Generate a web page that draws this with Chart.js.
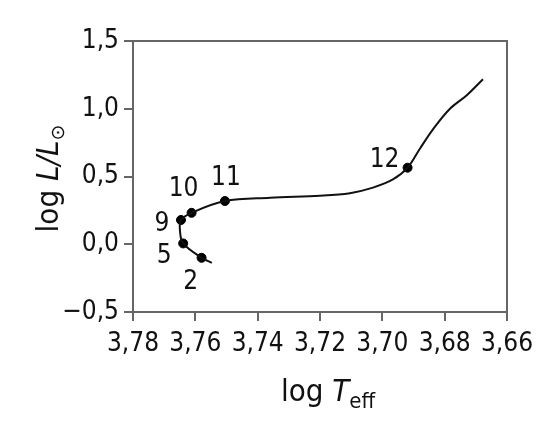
<!DOCTYPE html>
<html>
<head>
<meta charset="utf-8">
<script src="https://cdn.jsdelivr.net/npm/chart.js@4/dist/chart.umd.min.js"></script>
<style>
  html, body { margin: 0; padding: 0; background: #fff; }
  #wrap { width: 560px; height: 439px; }
</style>
</head>
<body>
<div id="wrap"><canvas id="hrd"></canvas></div>
<script>
// track data (log Teff, log L/Lsun)
const trackT = [3.7547, 3.7580, 3.7639, 3.7649, 3.7646, 3.7612, 3.7505, 3.7360, 3.7200, 3.7104, 3.7030, 3.6966, 3.6919, 3.6879, 3.6837, 3.6783, 3.6729, 3.6677];
const trackL = [-0.137, -0.100, 0.006, 0.092, 0.179, 0.232, 0.319, 0.343, 0.358, 0.377, 0.418, 0.478, 0.565, 0.707, 0.850, 1.000, 1.100, 1.218];

// marked points
const markT = [3.7580, 3.7639, 3.7646, 3.7612, 3.7505, 3.6919];
const markL = [-0.100, 0.006, 0.179, 0.232, 0.319, 0.565];
const markNames = ['2', '5', '9', '10', '11', '12'];

// tick values
const xTicks = [3.78, 3.76, 3.74, 3.72, 3.70, 3.68, 3.66];
const yTicks = [-0.5, 0.0, 0.5, 1.0, 1.5];

const FONT = "'Liberation Sans Narrow', 'DejaVu Sans Condensed', sans-serif";
const INK = '#111';
const AXIS = '#666';

// label offsets from marker (px)
const labelOffsets = [[-11, 24], [-19, 13], [-19, 4], [-8, -24], [1, -23], [-23, -7]];

const comma = (v, d) => {
    const s = Math.abs(v).toFixed(d).replace('.', ',');
    return v < 0 ? '\u2212' + s : s;
};

// 枠線・軸タイトル・点ラベル
const extras = {
    id: 'extras',
    afterDraw(chart) {
        const c = chart.ctx;
        const a = chart.chartArea;
        const xs = chart.scales.x, ys = chart.scales.y;
        c.save();
        c.strokeStyle = AXIS;
        c.lineWidth = 2;
        c.beginPath();
        c.moveTo(a.left, a.top);
        c.lineTo(a.right, a.top);
        c.lineTo(a.right, a.bottom);
        c.stroke();

        // point labels
        c.fillStyle = INK;
        c.font = '26px ' + FONT;
        c.textAlign = 'center';
        c.textBaseline = 'middle';
        markNames.forEach((n, i) => {
            const px = xs.getPixelForValue(markT[i]);
            const py = ys.getPixelForValue(markL[i]);
            c.fillText(n, px + labelOffsets[i][0], py + labelOffsets[i][1]);
        });

        // x title: log T_eff
        const big = 31;
        c.textBaseline = 'alphabetic';
        c.textAlign = 'left';
        const parts = [
            { t: 'log ', f: big + 'px ' + FONT, dy: 0 },
            { t: 'T', f: 'italic ' + big + 'px ' + FONT, dy: 0 },
            { t: 'eff', f: Math.round(big * 0.72) + 'px ' + FONT, dy: 7 }
        ];
        let w = 0;
        parts.forEach(p => { c.font = p.f; w += c.measureText(p.t).width; });
        let x0 = (a.left + a.right) / 2 + 8 - w / 2;
        parts.forEach(p => {
            c.font = p.f;
            c.fillText(p.t, x0, 401 + p.dy);
            x0 += c.measureText(p.t).width;
        });

        // y title: log L/L_sun
        const yparts = [
            { t: 'log ', f: big + 'px ' + FONT, dy: 0 },
            { t: 'L/L', f: 'italic ' + big + 'px ' + FONT, dy: 0 },
            { t: '\u2299', f: Math.round(big * 0.6) + 'px DejaVu Sans', dy: 6 }
        ];
        w = 0;
        yparts.forEach(p => { c.font = p.f; w += c.measureText(p.t).width; });
        c.translate(58, (a.top + a.bottom) / 2 + 2);
        c.rotate(-Math.PI / 2);
        x0 = -w / 2;
        yparts.forEach(p => {
            c.font = p.f;
            c.fillText(p.t, x0, p.dy);
            x0 += c.measureText(p.t).width;
        });
        c.restore();
    }
};

new Chart(document.getElementById('hrd'), {
    type: 'scatter',
    data: {
        datasets: [
            {
                data: trackT.map((t, i) => ({ x: t, y: trackL[i] })),
                showLine: true,
                borderColor: '#111',
                borderWidth: 2,
                tension: 0.35,
                pointRadius: 0
            },
            {
                data: markT.map((t, i) => ({ x: t, y: markL[i] })),
                showLine: false,
                pointRadius: 4.5,
                backgroundColor: '#000',
                borderColor: '#000'
            }
        ]
    },
    options: {
        responsive: true,
        maintainAspectRatio: false,
        animation: false,
        layout: { padding: { top: 41, right: 53, left: 0, bottom: 0 } },
        plugins: {
            legend: { display: false },
            tooltip: { enabled: false }
        },
        scales: {
            x: {
                type: 'linear',
                reverse: true,
                min: 3.66,
                max: 3.78,
                afterBuildTicks: s => { s.ticks = xTicks.map(v => ({ value: v })); },
                afterFit: s => { s.height = 127; },
                grid: { drawOnChartArea: false, color: AXIS, lineWidth: 2, tickLength: 9 },
                border: { color: AXIS, width: 2 },
                ticks: {
                    color: INK,
                    padding: 8,
                    maxRotation: 0,
                    font: { family: FONT, size: 26 },
                    callback: v => comma(v, 2)
                }
            },
            y: {
                type: 'linear',
                min: -0.5,
                max: 1.5,
                afterBuildTicks: s => { s.ticks = yTicks.map(v => ({ value: v })); },
                afterFit: s => { s.width = 133; },
                grid: { drawOnChartArea: false, color: AXIS, lineWidth: 2, tickLength: 9 },
                border: { color: AXIS, width: 2 },
                ticks: {
                    color: INK,
                    padding: 5,
                    font: { family: FONT, size: 26 },
                    callback: v => comma(v, 1)
                }
            }
        }
    },
    plugins: [extras]
});
</script>
</body>
</html>
